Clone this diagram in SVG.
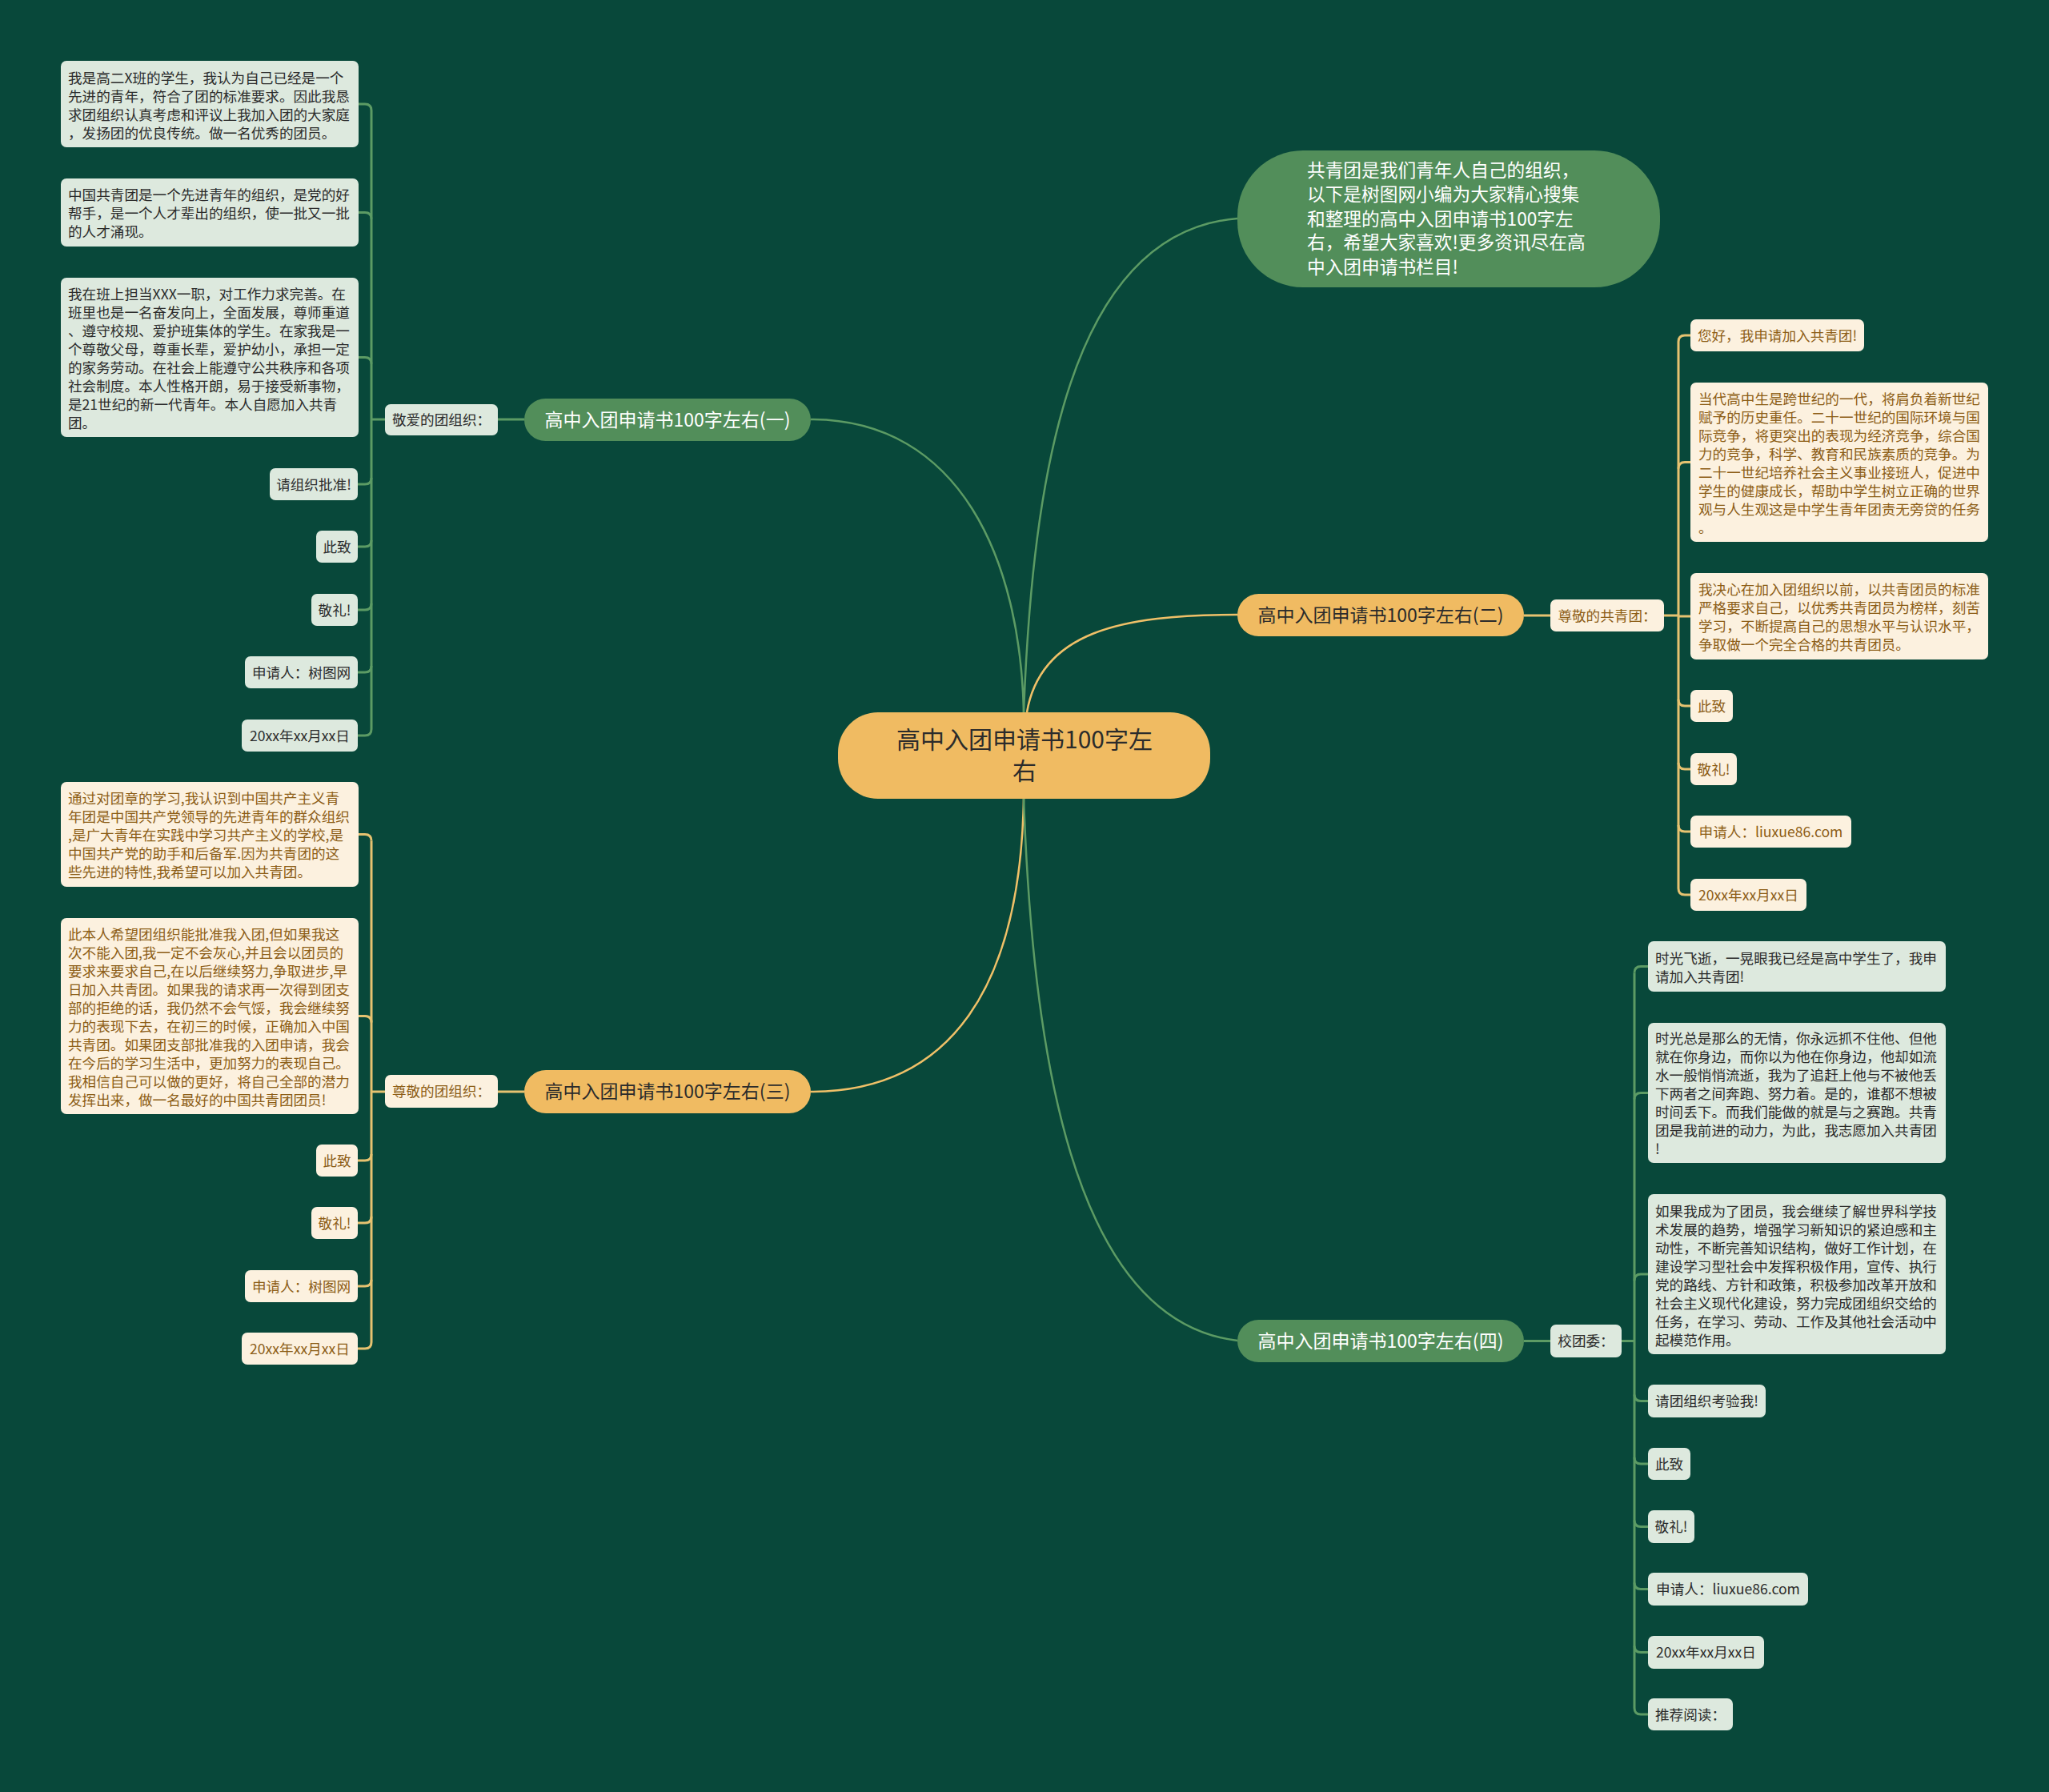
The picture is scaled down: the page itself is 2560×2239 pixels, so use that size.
<svg xmlns="http://www.w3.org/2000/svg" width="2560" height="2239" viewBox="0 0 2560 2239">
<style>
text{font-family:"Noto Sans CJK SC","Noto Sans",sans-serif;}
.ng{fill:#528e5a;}
.no{fill:#f0bb62;}
.bg{fill:#dde9de;}
.bc{fill:#fcf1df;}
.tw{fill:#ffffff;}
.td{fill:#2b2b2b;}
.tb{fill:#8c5d16;}
.p{font-size:17.6px;}
.s{font-size:17.6px;}
.br{font-size:23px;}
.lg{fill:none;stroke:#5c9b64;stroke-width:3;}
.lo{fill:none;stroke:#e6c270;stroke-width:3;}
.mg{fill:none;stroke:#5c9b64;stroke-width:2.5;}
.mo{fill:none;stroke:#efc068;stroke-width:2.5;}
</style>
<rect x="0" y="0" width="2560" height="2239" fill="#08483a"/>

<g id="connectors">
  <path class="mg" d="M1279 890 C1290 600 1335 290 1546 273"/>
  <path class="mg" d="M1279 890 C1275 700 1200 524 1013 524"/>
  <path class="mo" d="M1283 890 C1300 790 1400 768 1546 768"/>
  <path class="mo" d="M1279 998 C1275 1230 1190 1364 1013 1364"/>
  <path class="mg" d="M1279 998 C1290 1300 1335 1650 1546 1675"/>
  <path class="lg" d="M655 524 H622"/>
  <path class="lg" d="M481 524 H464"/>
  <path class="lg" d="M464 138 V911"/>
  <path class="lg" d="M447 130 H456 Q464 130 464 138"/>
  <path class="lg" d="M447 265.5 H456 Q464 265.5 464 273.5"/>
  <path class="lg" d="M447 446.5 H456 Q464 446.5 464 454.5"/>
  <path class="lg" d="M447 605 H456 Q464 605 464 597"/>
  <path class="lg" d="M447 683 H456 Q464 683 464 675"/>
  <path class="lg" d="M447 762 H456 Q464 762 464 754"/>
  <path class="lg" d="M447 840 H456 Q464 840 464 832"/>
  <path class="lg" d="M447 919 H456 Q464 919 464 911"/>
  <path class="lo" d="M655 1364 H622"/>
  <path class="lo" d="M481 1364 H464"/>
  <path class="lo" d="M464 1050.5 V1677"/>
  <path class="lo" d="M447 1042.5 H456 Q464 1042.5 464 1050.5"/>
  <path class="lo" d="M447 1269.5 H456 Q464 1269.5 464 1277.5"/>
  <path class="lo" d="M447 1450 H456 Q464 1450 464 1442"/>
  <path class="lo" d="M447 1528 H456 Q464 1528 464 1520"/>
  <path class="lo" d="M447 1607 H456 Q464 1607 464 1599"/>
  <path class="lo" d="M447 1685 H456 Q464 1685 464 1677"/>
  <path class="lo" d="M1904 769 H1937"/>
  <path class="lo" d="M2079 769 H2097"/>
  <path class="lo" d="M2097 427 V1110"/>
  <path class="lo" d="M2112 419 H2105 Q2097 419 2097 427"/>
  <path class="lo" d="M2112 577.5 H2105 Q2097 577.5 2097 585.5"/>
  <path class="lo" d="M2112 770 H2097"/>
  <path class="lo" d="M2112 882 H2105 Q2097 882 2097 874"/>
  <path class="lo" d="M2112 961 H2105 Q2097 961 2097 953"/>
  <path class="lo" d="M2112 1039 H2105 Q2097 1039 2097 1031"/>
  <path class="lo" d="M2112 1118 H2105 Q2097 1118 2097 1110"/>
  <path class="lg" d="M1904 1675.5 H1937"/>
  <path class="lg" d="M2026 1675.5 H2042"/>
  <path class="lg" d="M2042 1215.5 V2134"/>
  <path class="lg" d="M2059 1207.5 H2050 Q2042 1207.5 2042 1215.5"/>
  <path class="lg" d="M2059 1365.5 H2050 Q2042 1365.5 2042 1373.5"/>
  <path class="lg" d="M2059 1592 H2050 Q2042 1592 2042 1600"/>
  <path class="lg" d="M2059 1750.5 H2050 Q2042 1750.5 2042 1742.5"/>
  <path class="lg" d="M2059 1829 H2050 Q2042 1829 2042 1821"/>
  <path class="lg" d="M2059 1907.5 H2050 Q2042 1907.5 2042 1899.5"/>
  <path class="lg" d="M2059 1985.5 H2050 Q2042 1985.5 2042 1977.5"/>
  <path class="lg" d="M2059 2064.5 H2050 Q2042 2064.5 2042 2056.5"/>
  <path class="lg" d="M2059 2142 H2050 Q2042 2142 2042 2134"/>
</g>

<g id="root">
  <rect class="no" x="1047" y="890" width="465" height="108" rx="50"/>
  <text class="td" x="1280" y="934.5" font-size="30" text-anchor="middle">高中入团申请书100字左</text>
  <text class="td" x="1280" y="973.5" font-size="30" text-anchor="middle">右</text>
</g>

<g id="intro">
  <rect class="ng" x="1546" y="188" width="528" height="171" rx="82"/>
  <text class="tw" font-size="22.7">
    <tspan x="1633" y="221">共青团是我们青年人自己的组织，</tspan>
    <tspan x="1633" y="251">以下是树图网小编为大家精心搜集</tspan>
    <tspan x="1633" y="282">和整理的高中入团申请书100字左</tspan>
    <tspan x="1633" y="311">右，希望大家喜欢!更多资讯尽在高</tspan>
    <tspan x="1633" y="342">中入团申请书栏目!</tspan>
  </text>
</g>

<g id="b1">
  <rect class="ng" x="655" y="498" width="358" height="53" rx="26.5"/>
  <text class="tw br" x="834" y="532.5" text-anchor="middle">高中入团申请书100字左右(一)</text>
</g>
<g id="b1-label">
  <rect class="bg" x="481" y="505" width="141" height="39" rx="7"/>
  <text class="td s" x="551.5" y="531" text-anchor="middle">敬爱的团组织：</text>
</g>
<g id="b1-c1">
  <rect class="bg" x="76" y="76" width="372" height="108" rx="7"/>
  <text class="td p">
    <tspan x="85" y="103.5">我是高二X班的学生，我认为自己已经是一个</tspan>
    <tspan x="85" y="126.5">先进的青年，符合了团的标准要求。因此我恳</tspan>
    <tspan x="85" y="149.5">求团组织认真考虑和评议上我加入团的大家庭</tspan>
    <tspan x="85" y="172.5">，发扬团的优良传统。做一名优秀的团员。</tspan>
  </text>
</g>
<g id="b1-c2">
  <rect class="bg" x="76" y="223" width="372" height="85" rx="7"/>
  <text class="td p">
    <tspan x="85" y="249.5">中国共青团是一个先进青年的组织，是党的好</tspan>
    <tspan x="85" y="272.5">帮手，是一个人才辈出的组织，使一批又一批</tspan>
    <tspan x="85" y="295.5">的人才涌现。</tspan>
  </text>
</g>
<g id="b1-c3">
  <rect class="bg" x="76" y="347" width="372" height="199" rx="7"/>
  <text class="td p">
    <tspan x="85" y="373.5">我在班上担当XXX一职，对工作力求完善。在</tspan>
    <tspan x="85" y="396.5">班里也是一名奋发向上，全面发展，尊师重道</tspan>
    <tspan x="85" y="419.5">、遵守校规、爱护班集体的学生。在家我是一</tspan>
    <tspan x="85" y="442.5">个尊敬父母，尊重长辈，爱护幼小，承担一定</tspan>
    <tspan x="85" y="465.5">的家务劳动。在社会上能遵守公共秩序和各项</tspan>
    <tspan x="85" y="488.5">社会制度。本人性格开朗，易于接受新事物，</tspan>
    <tspan x="85" y="511.5">是21世纪的新一代青年。本人自愿加入共青</tspan>
    <tspan x="85" y="534.5">团。</tspan>
  </text>
</g>
<g id="b1-c4">
  <rect class="bg" x="337" y="585" width="110" height="40" rx="7"/>
  <text class="td s" x="392" y="611.5" text-anchor="middle">请组织批准!</text>
</g>
<g id="b1-c5">
  <rect class="bg" x="395" y="663" width="52" height="40" rx="7"/>
  <text class="td s" x="421" y="689.5" text-anchor="middle">此致</text>
</g>
<g id="b1-c6">
  <rect class="bg" x="389" y="742" width="58" height="40" rx="7"/>
  <text class="td s" x="418" y="768.5" text-anchor="middle">敬礼!</text>
</g>
<g id="b1-c7">
  <rect class="bg" x="306" y="820" width="141" height="40" rx="7"/>
  <text class="td s" x="376.5" y="846.5" text-anchor="middle">申请人：树图网</text>
</g>
<g id="b1-c8">
  <rect class="bg" x="302" y="899" width="145" height="40" rx="7"/>
  <text class="td s" x="374.5" y="925.5" text-anchor="middle">20xx年xx月xx日</text>
</g>

<g id="b3">
  <rect class="no" x="655" y="1337" width="358" height="54" rx="27"/>
  <text class="td br" x="834" y="1372" text-anchor="middle">高中入团申请书100字左右(三)</text>
</g>
<g id="b3-label">
  <rect class="bc" x="481" y="1343" width="141" height="41" rx="7"/>
  <text class="tb s" x="551.5" y="1370" text-anchor="middle">尊敬的团组织：</text>
</g>
<g id="b3-c1">
  <rect class="bc" x="76" y="977" width="372" height="131" rx="7"/>
  <text class="tb p">
    <tspan x="85" y="1003.5">通过对团章的学习,我认识到中国共产主义青</tspan>
    <tspan x="85" y="1026.5">年团是中国共产党领导的先进青年的群众组织</tspan>
    <tspan x="85" y="1049.5">,是广大青年在实践中学习共产主义的学校,是</tspan>
    <tspan x="85" y="1072.5">中国共产党的助手和后备军.因为共青团的这</tspan>
    <tspan x="85" y="1095.5">些先进的特性,我希望可以加入共青团。</tspan>
  </text>
</g>
<g id="b3-c2">
  <rect class="bc" x="76" y="1147" width="372" height="245" rx="7"/>
  <text class="tb p">
    <tspan x="85" y="1173.5">此本人希望团组织能批准我入团,但如果我这</tspan>
    <tspan x="85" y="1196.5">次不能入团,我一定不会灰心,并且会以团员的</tspan>
    <tspan x="85" y="1219.5">要求来要求自己,在以后继续努力,争取进步,早</tspan>
    <tspan x="85" y="1242.5">日加入共青团。如果我的请求再一次得到团支</tspan>
    <tspan x="85" y="1265.5">部的拒绝的话，我仍然不会气馁，我会继续努</tspan>
    <tspan x="85" y="1288.5">力的表现下去，在初三的时候，正确加入中国</tspan>
    <tspan x="85" y="1311.5">共青团。如果团支部批准我的入团申请，我会</tspan>
    <tspan x="85" y="1334.5">在今后的学习生活中，更加努力的表现自己。</tspan>
    <tspan x="85" y="1357.5">我相信自己可以做的更好，将自己全部的潜力</tspan>
    <tspan x="85" y="1380.5">发挥出来，做一名最好的中国共青团团员!</tspan>
  </text>
</g>
<g id="b3-c3">
  <rect class="bc" x="395" y="1430" width="52" height="40" rx="7"/>
  <text class="tb s" x="421" y="1456.5" text-anchor="middle">此致</text>
</g>
<g id="b3-c4">
  <rect class="bc" x="389" y="1508" width="58" height="40" rx="7"/>
  <text class="tb s" x="418" y="1534.5" text-anchor="middle">敬礼!</text>
</g>
<g id="b3-c5">
  <rect class="bc" x="306" y="1587" width="141" height="40" rx="7"/>
  <text class="tb s" x="376.5" y="1613.5" text-anchor="middle">申请人：树图网</text>
</g>
<g id="b3-c6">
  <rect class="bc" x="302" y="1665" width="145" height="40" rx="7"/>
  <text class="tb s" x="374.5" y="1691.5" text-anchor="middle">20xx年xx月xx日</text>
</g>

<g id="b2">
  <rect class="no" x="1546" y="742" width="358" height="53" rx="26.5"/>
  <text class="td br" x="1725" y="777" text-anchor="middle">高中入团申请书100字左右(二)</text>
</g>
<g id="b2-label">
  <rect class="bc" x="1937" y="749" width="142" height="40" rx="7"/>
  <text class="tb s" x="2008" y="775.5" text-anchor="middle">尊敬的共青团：</text>
</g>
<g id="b2-c1">
  <rect class="bc" x="2112" y="399" width="217" height="40" rx="7"/>
  <text class="tb s" x="2220.5" y="425.5" text-anchor="middle">您好，我申请加入共青团!</text>
</g>
<g id="b2-c2">
  <rect class="bc" x="2112" y="478" width="372" height="199" rx="7"/>
  <text class="tb p">
    <tspan x="2122" y="504.5">当代高中生是跨世纪的一代，将肩负着新世纪</tspan>
    <tspan x="2122" y="527.5">赋予的历史重任。二十一世纪的国际环境与国</tspan>
    <tspan x="2122" y="550.5">际竞争，将更突出的表现为经济竞争，综合国</tspan>
    <tspan x="2122" y="573.5">力的竞争，科学、教育和民族素质的竞争。为</tspan>
    <tspan x="2122" y="596.5">二十一世纪培养社会主义事业接班人，促进中</tspan>
    <tspan x="2122" y="619.5">学生的健康成长，帮助中学生树立正确的世界</tspan>
    <tspan x="2122" y="642.5">观与人生观这是中学生青年团责无旁贷的任务</tspan>
    <tspan x="2122" y="665.5">。</tspan>
  </text>
</g>
<g id="b2-c3">
  <rect class="bc" x="2112" y="716" width="372" height="108" rx="7"/>
  <text class="tb p">
    <tspan x="2122" y="742.5">我决心在加入团组织以前，以共青团员的标准</tspan>
    <tspan x="2122" y="765.5">严格要求自己，以优秀共青团员为榜样，刻苦</tspan>
    <tspan x="2122" y="788.5">学习，不断提高自己的思想水平与认识水平，</tspan>
    <tspan x="2122" y="811.5">争取做一个完全合格的共青团员。</tspan>
  </text>
</g>
<g id="b2-c4">
  <rect class="bc" x="2112" y="862" width="53" height="40" rx="7"/>
  <text class="tb s" x="2138.5" y="888.5" text-anchor="middle">此致</text>
</g>
<g id="b2-c5">
  <rect class="bc" x="2112" y="941" width="58" height="40" rx="7"/>
  <text class="tb s" x="2141" y="967.5" text-anchor="middle">敬礼!</text>
</g>
<g id="b2-c6">
  <rect class="bc" x="2112" y="1019" width="201" height="40" rx="7"/>
  <text class="tb s" x="2212.5" y="1045.5" text-anchor="middle">申请人：liuxue86.com</text>
</g>
<g id="b2-c7">
  <rect class="bc" x="2112" y="1098" width="145" height="40" rx="7"/>
  <text class="tb s" x="2184.5" y="1124.5" text-anchor="middle">20xx年xx月xx日</text>
</g>

<g id="b4">
  <rect class="ng" x="1546" y="1649" width="358" height="53" rx="26.5"/>
  <text class="tw br" x="1725" y="1683.5" text-anchor="middle">高中入团申请书100字左右(四)</text>
</g>
<g id="b4-label">
  <rect class="bg" x="1937" y="1655" width="89" height="41" rx="7"/>
  <text class="td s" x="1981.5" y="1682" text-anchor="middle">校团委：</text>
</g>
<g id="b4-c1">
  <rect class="bg" x="2059" y="1176" width="372" height="63" rx="7"/>
  <text class="td p">
    <tspan x="2068" y="1203.5">时光飞逝，一晃眼我已经是高中学生了，我申</tspan>
    <tspan x="2068" y="1226.5">请加入共青团!</tspan>
  </text>
</g>
<g id="b4-c2">
  <rect class="bg" x="2059" y="1278" width="372" height="175" rx="7"/>
  <text class="td p">
    <tspan x="2068" y="1303.5">时光总是那么的无情，你永远抓不住他、但他</tspan>
    <tspan x="2068" y="1326.5">就在你身边，而你以为他在你身边，他却如流</tspan>
    <tspan x="2068" y="1349.5">水一般悄悄流逝，我为了追赶上他与不被他丢</tspan>
    <tspan x="2068" y="1372.5">下两者之间奔跑、努力着。是的，谁都不想被</tspan>
    <tspan x="2068" y="1395.5">时间丢下。而我们能做的就是与之赛跑。共青</tspan>
    <tspan x="2068" y="1418.5">团是我前进的动力，为此，我志愿加入共青团</tspan>
    <tspan x="2068" y="1441.5">!</tspan>
  </text>
</g>
<g id="b4-c3">
  <rect class="bg" x="2059" y="1492" width="372" height="200" rx="7"/>
  <text class="td p">
    <tspan x="2068" y="1519.5">如果我成为了团员，我会继续了解世界科学技</tspan>
    <tspan x="2068" y="1542.5">术发展的趋势，增强学习新知识的紧迫感和主</tspan>
    <tspan x="2068" y="1565.5">动性，不断完善知识结构，做好工作计划，在</tspan>
    <tspan x="2068" y="1588.5">建设学习型社会中发挥积极作用，宣传、执行</tspan>
    <tspan x="2068" y="1611.5">党的路线、方针和政策，积极参加改革开放和</tspan>
    <tspan x="2068" y="1634.5">社会主义现代化建设，努力完成团组织交给的</tspan>
    <tspan x="2068" y="1657.5">任务，在学习、劳动、工作及其他社会活动中</tspan>
    <tspan x="2068" y="1680.5">起模范作用。</tspan>
  </text>
</g>
<g id="b4-c4">
  <rect class="bg" x="2059" y="1730" width="147" height="41" rx="7"/>
  <text class="td s" x="2132.5" y="1757" text-anchor="middle">请团组织考验我!</text>
</g>
<g id="b4-c5">
  <rect class="bg" x="2059" y="1809" width="53" height="40" rx="7"/>
  <text class="td s" x="2085.5" y="1835.5" text-anchor="middle">此致</text>
</g>
<g id="b4-c6">
  <rect class="bg" x="2059" y="1887" width="58" height="41" rx="7"/>
  <text class="td s" x="2088" y="1914" text-anchor="middle">敬礼!</text>
</g>
<g id="b4-c7">
  <rect class="bg" x="2059" y="1965" width="200" height="41" rx="7"/>
  <text class="td s" x="2159" y="1992" text-anchor="middle">申请人：liuxue86.com</text>
</g>
<g id="b4-c8">
  <rect class="bg" x="2059" y="2044" width="145" height="41" rx="7"/>
  <text class="td s" x="2131.5" y="2071" text-anchor="middle">20xx年xx月xx日</text>
</g>
<g id="b4-c9">
  <rect class="bg" x="2059" y="2122" width="106" height="40" rx="7"/>
  <text class="td s" x="2112" y="2148.5" text-anchor="middle">推荐阅读：</text>
</g>
</svg>
